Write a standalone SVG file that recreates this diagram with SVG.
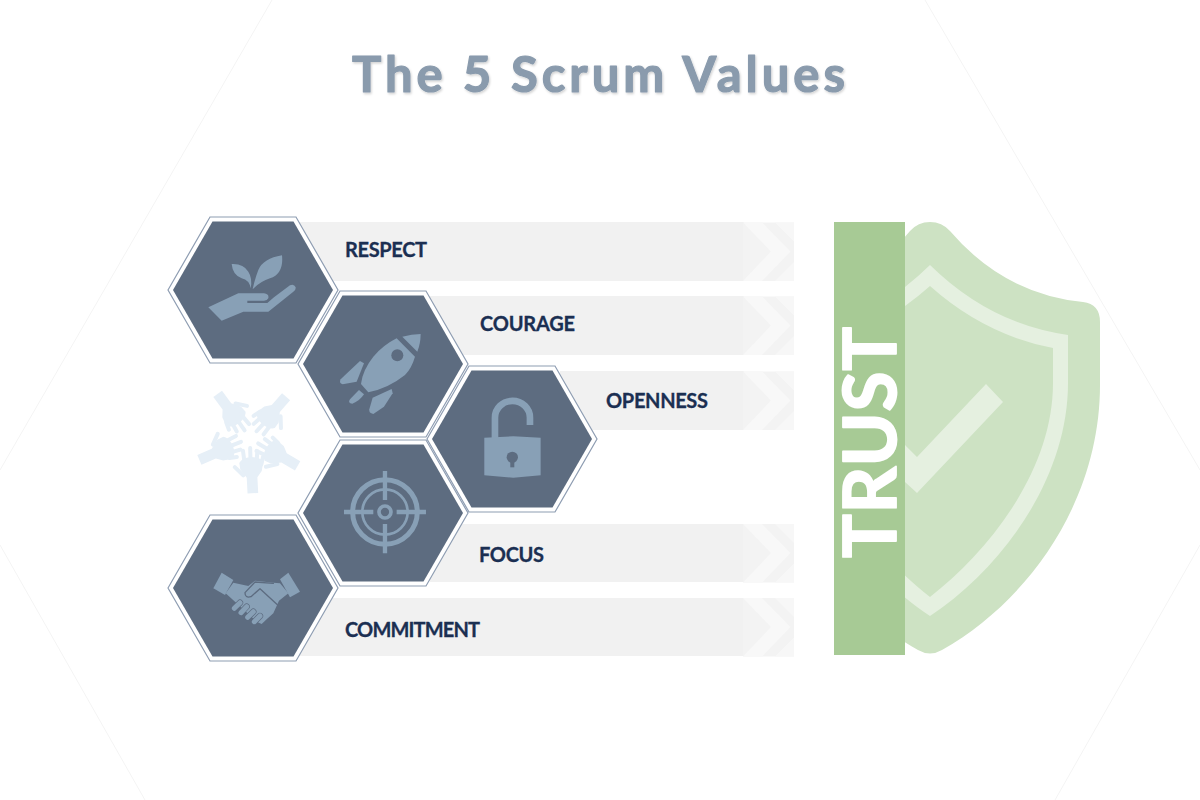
<svg xmlns="http://www.w3.org/2000/svg" width="1200" height="800" viewBox="0 0 1200 800">
<style>
.bg{fill:none;stroke:#f4f4f4;stroke-width:1}
.bar{fill:#f1f1f1}
.lab{font-family:"Lato","Liberation Sans",sans-serif;font-weight:700;font-size:20px;fill:#1b2f52;stroke:#1b2f52;stroke-width:.3px}
.ic{fill:#88a0b6}
.ics{fill:none;stroke:#88a0b6}
.cut{fill:#5d6c80}
.cuts{fill:none;stroke:#5d6c80;stroke-linecap:round;stroke-linejoin:round}
.h{fill:none;stroke:#e6eff7;stroke-linecap:round;stroke-linejoin:round}
</style>
<defs>
<g id="hex">
<polygon points="-85,0 -43,-73 43,-73 85,0 43,73 -43,73" fill="#fff" stroke="#8e9db2" stroke-width="1.2"/>
<polygon points="-80,0 -40.5,-68.5 40.5,-68.5 80,0 40.5,68.5 -40.5,68.5" fill="#5d6c80"/>
</g>
<g id="chev">
<rect x="0" y="0" width="51" height="58.500" fill="#f3f3f3"/>
<polygon points="0,0 19,0 47.500,29 19,58.500 0,58.500 28,29" fill="#f8f8f8"/>
<polygon points="32,0 51,0 51,19" fill="#f7f7f7"/>
<polygon points="32,58.500 51,58.500 51,39.500" fill="#f7f7f7"/>
</g>
<g id="hand">
<path d="M-16 165V118L-34 92L-36 72Q-28 58 0 56Q28 58 36 72L30 100L16 118V165Z" fill="#e6eff7"/>
<path class="h" stroke-width="12" d="M-20 75L-23 36M-2 70L-1 29M16 72L20 40M30 80L36 58M-26 110L-50 84"/>
</g>
<clipPath id="right"><rect x="905" y="200" width="220" height="480"/></clipPath>
<filter id="sh" x="-5%" y="-20%" width="110%" height="140%"><feDropShadow dx="1" dy="1.5" stdDeviation="1.2" flood-color="#000" flood-opacity=".18"/></filter>
</defs>

<g id="background">
<path class="bg" d="M272 0L0 470M925 0L1200 470M0 545L145 800M1200 545L1055 800"/>
</g>

<text id="title" x="352" y="92" font-family="Lato,'Liberation Sans',sans-serif" font-weight="700" font-size="49" textLength="493" fill="#8a9bad" stroke="#8a9bad" stroke-width="1.200" stroke-linejoin="round" filter="url(#sh)">The 5 Scrum Values</text>

<g id="connectors">
<rect class="bar" x="296" y="222" width="448" height="59"/><use href="#chev" x="743" y="222.500"/>
<rect class="bar" x="430" y="296" width="314" height="59"/><use href="#chev" x="743" y="296.500"/>
<rect class="bar" x="560" y="371" width="184" height="59"/><use href="#chev" x="743" y="371.500"/>
<rect class="bar" x="430" y="524" width="314" height="58"/><use href="#chev" x="743" y="524"/>
<rect class="bar" x="296" y="598" width="448" height="58"/><use href="#chev" x="743" y="598"/>
</g>

<g id="node-respect">
<use href="#hex" x="253" y="290"/>
<g transform="translate(160 210) scale(.3333)">
<path class="ic" d="M145 292L235 250H312Q328 252 325 265Q322 272 312 272H262V279H322L342 262L390 226Q402 220 407 232Q408 240 400 245L325 305H250L185 332Z"/>
<path class="ic" d="M278 238Q285 205 295 180Q310 145 366 136Q372 190 330 205Q300 215 278 238Z"/>
<path class="ic" d="M272 235Q268 210 245 205Q218 195 215 162Q250 160 265 185Q278 205 272 235Z"/>
</g>
<text class="lab" x="345" y="257" textLength="82">RESPECT</text>
</g>

<g id="node-courage">
<use href="#hex" x="383" y="364"/>
<g transform="translate(160 210) scale(.3333)">
<path class="ic" d="M727 380Q755 372 782 372Q782 400 772 425Z"/>
<path class="ic" d="M710 385L765 440Q755 475 735 495Q685 535 625 547L603 522Q608 480 640 440Q670 405 710 385Z"/>
<circle class="cut" cx="712" cy="436" r="18"/>
<path class="ic" d="M600 453L612 460L590 515L548 523Q536 520 542 508Z"/>
<path class="ic" d="M695 537L698 550L672 590L640 612Q626 610 628 598L638 563Z"/>
<path class="ic" d="M597 540L612 553Q600 572 577 581Q562 580 570 568Z"/>
</g>
<text class="lab" x="480" y="331" textLength="95">COURAGE</text>
</g>

<g id="node-openness">
<use href="#hex" x="512" y="439"/>
<g transform="translate(160 370) scale(.3333)">
<path class="ic" d="M973 203L1060 199L1142 203V316L1060 323L973 316Z"/>
<path class="ics" stroke-width="20" d="M1005 205V143A52 50 0 0 1 1110 143V165"/>
<circle class="cut" cx="1057" cy="262" r="17"/>
<rect class="cut" x="1051" y="268" width="12" height="24"/>
</g>
<text class="lab" x="606" y="408" textLength="102">OPENNESS</text>
</g>

<g id="node-focus">
<use href="#hex" x="383" y="513"/>
<g transform="translate(160 370) scale(.3333)">
<circle class="ics" cx="675" cy="426" r="97" stroke-width="15"/>
<circle class="ics" cx="675" cy="426" r="68" stroke-width="8"/>
<circle class="ics" cx="675" cy="426" r="18" stroke-width="11"/>
<path class="ics" stroke-width="13" d="M675 303V390M675 462V550M552 426H640M710 426H798"/>
</g>
<text class="lab" x="479" y="562" textLength="65">FOCUS</text>
</g>

<g id="node-commitment">
<use href="#hex" x="253" y="588"/>
<g transform="translate(205 560) scale(.3333)">
<path class="ic" d="M50 38L85 60L60 105L25 85Z"/>
<path class="ic" d="M250 38L285 95L255 112L225 58Z"/>
<path class="ic" d="M85 68L130 78L150 62L205 68L225 70L250 100L222 122L205 160L185 178L170 192L155 185L95 130L62 100Z"/>
<path class="cuts" stroke-width="4" d="M205 70L150 66L120 98Q120 115 138 110L165 86L218 135"/>
<path class="cuts" stroke-width="19" d="M88 145L105 128M108 158L125 140M128 172L145 155M148 185L165 168"/>
<path class="ics" stroke-width="15" stroke-linecap="round" d="M88 145L105 128M108 158L125 140M128 172L145 155M148 185L165 168"/>
</g>
<text class="lab" x="345" y="637" textLength="135">COMMITMENT</text>
</g>

<g id="node-people">
<g transform="translate(250 438.300) scale(.3333)">
<use href="#hand" transform="rotate(-3)"/>
<use href="#hand" transform="rotate(-60)"/>
<use href="#hand" transform="rotate(-139)"/>
<use href="#hand" transform="rotate(144)"/>
<use href="#hand" transform="rotate(67)"/>
</g>
</g>

<g id="node-trust">
<g id="shield" clip-path="url(#right)">
<path d="M930 222Q942 222 950 231Q1004 294 1083 302Q1100 304 1100 322V385C1100 500 1030 600 942 650Q930 657 918 650C830 600 760 500 760 385V322Q760 304 777 302Q856 294 910 231Q918 222 930 222Z" fill="#cde2c3"/>
<path d="M930 265Q990 324 1068 335V383C1068 480 1000 570 930 616C860 570 792 480 792 383V335Q870 324 930 265Z" fill="#e5f0e0"/>
<path d="M930 286Q985 335 1053 348V383C1053 470 990 550 930 597C870 550 807 470 807 383V348Q875 335 930 286Z" fill="#cde2c3"/>
<path d="M905 445L917 457L986 384L1003 402L917 493L905 482Z" fill="#e5f0e0"/>
</g>
<rect x="834" y="222" width="71" height="433" fill="#a7ca95"/>
<text transform="translate(896 558) rotate(-90)" font-family="Lato,'Liberation Sans',sans-serif" font-weight="700" font-size="73" fill="#fff" stroke="#fff" stroke-width="1.800" stroke-linejoin="round" textLength="231">TRUST</text>
</g>
</svg>
